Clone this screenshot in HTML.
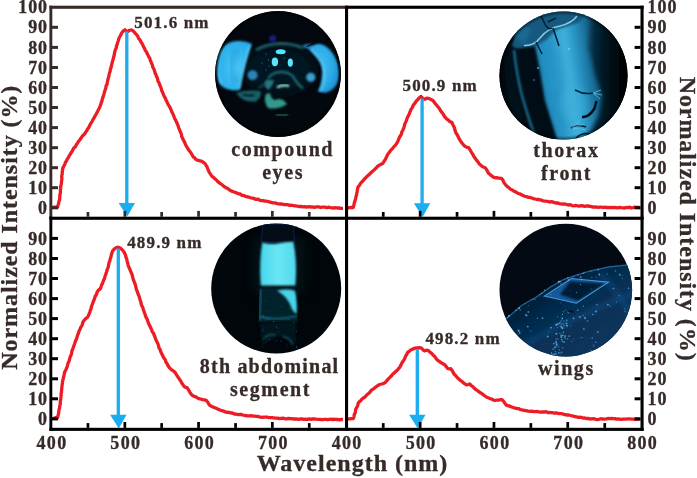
<!DOCTYPE html>
<html lang="en">
<head>
<meta charset="utf-8">
<title>Normalized Intensity vs Wavelength</title>
<style>
html,body{margin:0;padding:0;background:#fff;}
body{width:697px;height:478px;overflow:hidden;}
svg{display:block;}
svg text{font-family:"Liberation Serif","DejaVu Serif",serif;font-weight:bold;fill:#362b28;stroke:#362b28;stroke-width:0.3px;}
</style>
</head>
<body>
<svg width="697" height="478" viewBox="0 0 697 478">
<rect width="697" height="478" fill="#fff"/>
<defs>
<clipPath id="k1"><circle cx="278" cy="74" r="63"/></clipPath>
<clipPath id="k2"><circle cx="563.5" cy="75.6" r="64"/></clipPath>
<clipPath id="k3"><circle cx="276.2" cy="288.5" r="65"/></clipPath>
<clipPath id="k4"><circle cx="565.8" cy="290.1" r="66.3"/></clipPath>
<filter id="b05" x="-30%" y="-30%" width="160%" height="160%"><feGaussianBlur stdDeviation="0.6"/></filter>
<filter id="b08" x="-30%" y="-30%" width="160%" height="160%"><feGaussianBlur stdDeviation="0.8"/></filter>
<filter id="b1" x="-30%" y="-30%" width="160%" height="160%"><feGaussianBlur stdDeviation="1.1"/></filter>
<filter id="b2" x="-30%" y="-30%" width="160%" height="160%"><feGaussianBlur stdDeviation="2"/></filter>
<filter id="b3" x="-40%" y="-40%" width="180%" height="180%"><feGaussianBlur stdDeviation="3.5"/></filter>
<filter id="b6" x="-50%" y="-50%" width="200%" height="200%"><feGaussianBlur stdDeviation="6"/></filter>
<radialGradient id="eyeL" cx="0.55" cy="0.55" r="0.65"><stop offset="0" stop-color="#4cc8f6"/><stop offset="0.6" stop-color="#30b4ee"/><stop offset="1" stop-color="#2aa8e6"/></radialGradient>
<radialGradient id="eyeR" cx="0.35" cy="0.45" r="0.75"><stop offset="0" stop-color="#46c2f4"/><stop offset="0.6" stop-color="#2aa8e6"/><stop offset="1" stop-color="#1884c6"/></radialGradient>
<radialGradient id="vig1" cx="0.5" cy="0.5" r="0.5"><stop offset="0.94" stop-color="#000" stop-opacity="0"/><stop offset="1" stop-color="#000" stop-opacity="0.85"/></radialGradient>
<linearGradient id="band2" gradientUnits="userSpaceOnUse" x1="536" y1="0" x2="602" y2="0" gradientTransform="rotate(-8 563 76)">
 <stop offset="0" stop-color="#1f87ba"/><stop offset="0.3" stop-color="#2794c7"/><stop offset="0.5" stop-color="#42b2dc"/><stop offset="0.62" stop-color="#2e9dcd"/><stop offset="0.85" stop-color="#186d98"/><stop offset="1" stop-color="#0b4463"/></linearGradient>
<linearGradient id="left2" gradientUnits="userSpaceOnUse" x1="499" y1="0" x2="520" y2="0"><stop offset="0" stop-color="#010508"/><stop offset="0.5" stop-color="#010e17"/><stop offset="1" stop-color="#02111b"/></linearGradient>
<linearGradient id="right2" gradientUnits="userSpaceOnUse" x1="588" y1="0" x2="622" y2="0"><stop offset="0" stop-color="#093a56"/><stop offset="0.45" stop-color="#031824"/><stop offset="1" stop-color="#010406"/></linearGradient>
<linearGradient id="g3" x1="0" y1="0" x2="1" y2="0"><stop offset="0" stop-color="#48d6ec"/><stop offset="0.5" stop-color="#6ae6f3"/><stop offset="1" stop-color="#50daee"/></linearGradient>
<linearGradient id="g4" gradientUnits="userSpaceOnUse" x1="540" y1="290" x2="580" y2="350"><stop offset="0" stop-color="#041d36"/><stop offset="0.35" stop-color="#062c4e"/><stop offset="1" stop-color="#08355c"/></linearGradient>
</defs>
<g clip-path="url(#k1)">
<rect x="214" y="10" width="130" height="130" fill="#02080d"/>
<ellipse cx="279" cy="70" rx="36" ry="24" fill="#041720" filter="url(#b6)"/>
<path d="M256,50 Q267,44 280,43.5 Q293,43.5 303,48" fill="none" stroke="#1b5d66" stroke-width="3" filter="url(#b1)"/>
<path d="M235,41.2 C241,40.5 247,41.5 252,44 C248,54 244.5,66 241.5,80 L240,89.8 C232,91.5 223,89 219,83 C215,76 215,62 218.5,54 C222,46 228,42 235,41.2Z" fill="url(#eyeL)" filter="url(#b08)"/>
<path d="M238,49 C231,57 230,72 236,83" fill="none" stroke="#1f93d6" stroke-width="7" opacity="0.35" filter="url(#b2)"/>
<path d="M249.5,46 C245,60 242,75 239.5,88" fill="none" stroke="#7adcfa" stroke-width="2.2" opacity="0.55" filter="url(#b1)"/>
<path d="M222,50 C217.5,60 217,76 222,84" fill="none" stroke="#6ad4f8" stroke-width="2" opacity="0.45" filter="url(#b1)"/>
<path d="M301.5,46 Q306,43 311.5,44.5 L309.5,49.5 Q305,48.5 301.5,46Z" fill="#1a78b4" filter="url(#b08)"/>
<path d="M308.5,48.5 C311,45 316,43.5 320,44 C326,45 331,50 334.5,56 C338.5,63 340.5,72 338.5,80 C336.5,87 331,92 324.5,92.8 L317.7,91.4 C320.5,87 322,80 322.3,71.6 C322.3,64 319,59 315,55.5 C313,53 310.5,50.5 308.5,48.5Z" fill="url(#eyeR)" filter="url(#b08)"/>
<path d="M310.5,49 C317,55 323,62 324.5,72 C325,80 323,87 320.5,91" fill="none" stroke="#5fd0f8" stroke-width="2.4" opacity="0.6" filter="url(#b1)"/>
<path d="M306.5,46.5 L318,42.2" fill="none" stroke="#03121a" stroke-width="1.1" filter="url(#b05)"/>
<ellipse cx="280.7" cy="51.8" rx="5" ry="2.5" fill="#55e6ff" filter="url(#b05)"/>
<ellipse cx="274.9" cy="61.8" rx="3.2" ry="4.4" fill="#5ce4ff" filter="url(#b05)"/>
<ellipse cx="290.3" cy="62.6" rx="2.6" ry="4.2" fill="#5ce4ff" filter="url(#b05)"/>
<circle cx="252.6" cy="75.3" r="5" fill="#2c86b8" filter="url(#b1)"/>
<circle cx="310.8" cy="77.3" r="4.6" fill="#3a9fd0" filter="url(#b1)"/>
<circle cx="272.7" cy="38.5" r="3.6" fill="#1c2390" opacity="0.85" filter="url(#b1)"/>
<circle cx="266" cy="54" r="0.6" fill="#4fa7a8" opacity="0.8"/>
<circle cx="268.5" cy="60" r="0.6" fill="#4fa7a8" opacity="0.8"/>
<circle cx="262" cy="63" r="0.6" fill="#4fa7a8" opacity="0.8"/>
<circle cx="269" cy="66" r="0.6" fill="#4fa7a8" opacity="0.8"/>
<circle cx="266" cy="70" r="0.6" fill="#4fa7a8" opacity="0.8"/>
<circle cx="284" cy="58" r="0.6" fill="#4fa7a8" opacity="0.8"/>
<path d="M268,79 Q272,71.5 282,72 Q291,72.5 294,78 Q297,84 303,88.5" fill="none" stroke="#216770" stroke-width="2.4" filter="url(#b1)"/>
<path d="M258,88 Q264,86 268,80" fill="none" stroke="#184f58" stroke-width="1.8" filter="url(#b1)"/>
<path d="M236,93 Q246,89.5 260,91 Q263,96 256,101.5 Q243,103 236,93Z" fill="#176069" filter="url(#b1)"/>
<path d="M243,94 Q248,97 254,95" fill="none" stroke="#04161c" stroke-width="2" filter="url(#b1)"/>
<path d="M266,80 Q263,86 268,90 Q273,86 274,80Z" fill="#25747c" filter="url(#b1)"/>
<path d="M266,94 Q263,101 268,108 Q278,110 287,104 Q282,97 275,100 Q271,99 270,93Z" fill="#329a8c" filter="url(#b1)"/>
<path d="M277,87.5 Q283,84 289,86" fill="none" stroke="#98d8c8" stroke-width="2.6" filter="url(#b1)"/>
<path d="M276,114.5 Q282,116 288,114.5" fill="none" stroke="#1b6f70" stroke-width="2" filter="url(#b1)"/>
<circle cx="278" cy="74" r="63" fill="url(#vig1)"/>
</g>
<g clip-path="url(#k2)">
<rect x="498" y="10" width="132" height="132" fill="#020c14"/>
<rect x="498" y="10" width="24" height="132" fill="url(#left2)"/>
<rect x="586" y="0" width="50" height="150" fill="url(#right2)" filter="url(#b2)"/>
<path d="M534,46 L528,8 L591,8 L588.4,48 L594.4,74 L602.5,96 L598.4,116 L584,142 L557,142 L544,100 L539,70Z" fill="url(#band2)" filter="url(#b2)"/>
<path d="M512,46 L516,30 L535,12 L590,8 L580,22 L556,30 L546,40 L534,47 L518,50Z" fill="#14587e" filter="url(#b1)"/>
<path d="M514,36 L522,24 L532,30 L524,44Z" fill="#2279a6" opacity="0.5" filter="url(#b2)"/>
<path d="M515,49 L534.5,47 L539,70 L544,100 L557,142 L538,142 L528,110 L521,80Z" fill="#021019" filter="url(#b1)"/>
<path d="M514,50 Q517,80 525,106 Q531,126 537,142" fill="none" stroke="#1a749e" stroke-width="2.3" filter="url(#b1)"/>
<path d="M507,56 Q510,95 522,130" fill="none" stroke="#02131e" stroke-width="5" filter="url(#b2)"/>
<path d="M524,45.5 Q534,46 540,38 Q548,28 560,26 Q572,23 577,16" fill="none" stroke="#86cbe8" stroke-width="1.5" filter="url(#b05)"/>
<path d="M541,16 L546,26 Q549,30 552,28 M553,28 L559,46 M536,42 L542,54 M548,22 L556,18" fill="none" stroke="#03202e" stroke-width="1.5" filter="url(#b05)"/>
<ellipse cx="574" cy="104" rx="14" ry="18" fill="#3fb0dc" opacity="0.45" filter="url(#b3)"/>
<ellipse cx="556" cy="72" rx="8" ry="22" fill="#2a98cc" opacity="0.35" filter="url(#b3)"/>
<path d="M575,90 Q584,95 593,93" fill="none" stroke="#052636" stroke-width="1.5" filter="url(#b05)"/>
<path d="M582,117 Q589,117.5 594.5,108.5 L596.5,101" fill="none" stroke="#021018" stroke-width="2.4" filter="url(#b05)"/>
<path d="M571,128 Q578,124 586,127 M576,138 Q582,132 590,134" fill="none" stroke="#052636" stroke-width="1.5" filter="url(#b05)"/>
<path d="M593,93 L601,90 M593,93 L602,95 M593,93 L600,99" fill="none" stroke="#6cc6e6" stroke-width="1" opacity="0.7" filter="url(#b05)"/>
<path d="M572,128 L580,121 M572,128 L584,124 M572,128 L586,130" fill="none" stroke="#6cc6e6" stroke-width="1" opacity="0.6" filter="url(#b05)"/>
<circle cx="538" cy="68" r="0.9" fill="#4ab0e8"/><circle cx="534" cy="80" r="0.8" fill="#3a9ad8"/><circle cx="569" cy="49" r="0.9" fill="#7fd0f0"/>
<circle cx="563.5" cy="75.6" r="64" fill="url(#vig1)" opacity="0.6"/>
</g>
<g clip-path="url(#k3)">
<rect x="210" y="222" width="134" height="134" fill="#01060a"/>
<rect x="254" y="238" width="50" height="56" fill="#0a3a46" opacity="0.25" filter="url(#b6)"/>
<path d="M262.5,224 L293.5,224 L294.5,242 L261.5,242Z" fill="#030c16" stroke="#0b2458" stroke-width="0.9"/>
<path d="M262.3,242.5 Q270,245 278,243.5 Q286,242 293.3,241.8 Q297.5,262 295.3,285.5 L260.8,285.5 Q259,262 262.3,242.5Z" fill="url(#g3)" filter="url(#b1)"/>
<path d="M260.5,288.5 L295.5,288.5 L297.5,322 L258.5,322Z" fill="#05202b" filter="url(#b05)"/>
<path d="M261,289 Q259.5,305 259.5,320" fill="none" stroke="#14607c" stroke-width="2" filter="url(#b1)"/>
<path d="M277,290.5 Q288,288.5 295,291 Q297.5,303 296.5,314 Q292,311 290,304 Q286.5,296.5 277,290.5Z" fill="#4ad4ea" filter="url(#b1)"/>
<path d="M260,317 Q278,321 297,316" fill="none" stroke="#156a84" stroke-width="1.8" filter="url(#b1)"/>
<path d="M259.5,323 L296.5,322 L295,345 L287,340 L278,336 L268,342 L262,346Z" fill="#04131c" filter="url(#b1)"/>
<circle cx="276.7" cy="326.9" r="0.67" fill="#2a6fd0" opacity="0.63"/>
<circle cx="278.8" cy="328.2" r="0.37" fill="#2a6fd0" opacity="0.66"/>
<circle cx="283.3" cy="338.1" r="0.34" fill="#2a6fd0" opacity="0.55"/>
<circle cx="263.4" cy="338.9" r="0.58" fill="#2a6fd0" opacity="0.42"/>
<circle cx="296.3" cy="346.3" r="0.56" fill="#2a6fd0" opacity="0.71"/>
<circle cx="265.8" cy="300.7" r="0.51" fill="#2a6fd0" opacity="0.43"/>
<circle cx="267.0" cy="311.6" r="0.31" fill="#2a6fd0" opacity="0.63"/>
<circle cx="276.3" cy="340.4" r="0.51" fill="#2a6fd0" opacity="0.72"/>
<circle cx="278.5" cy="331.8" r="0.48" fill="#2a6fd0" opacity="0.54"/>
<circle cx="296.9" cy="347.8" r="0.64" fill="#2a6fd0" opacity="0.75"/>
<circle cx="271.7" cy="311.0" r="0.42" fill="#2a6fd0" opacity="0.44"/>
<circle cx="288.4" cy="319.2" r="0.64" fill="#2a6fd0" opacity="0.59"/>
<circle cx="295.4" cy="340.7" r="0.30" fill="#2a6fd0" opacity="0.50"/>
<circle cx="293.7" cy="322.6" r="0.69" fill="#2a6fd0" opacity="0.60"/>
<circle cx="262.7" cy="330.2" r="0.61" fill="#2a6fd0" opacity="0.53"/>
<circle cx="263.2" cy="316.0" r="0.69" fill="#2a6fd0" opacity="0.78"/>
<circle cx="264.4" cy="311.8" r="0.34" fill="#2a6fd0" opacity="0.43"/>
<circle cx="289.5" cy="308.5" r="0.52" fill="#2a6fd0" opacity="0.62"/>
<circle cx="267.1" cy="335.1" r="0.35" fill="#2a6fd0" opacity="0.72"/>
<circle cx="264.3" cy="320.2" r="0.39" fill="#2a6fd0" opacity="0.53"/>
<circle cx="295.9" cy="338.6" r="0.42" fill="#2a6fd0" opacity="0.84"/>
<circle cx="267.8" cy="318.9" r="0.64" fill="#2a6fd0" opacity="0.72"/>
<circle cx="263.7" cy="347.5" r="0.39" fill="#2a6fd0" opacity="0.53"/>
<circle cx="288.6" cy="315.8" r="0.42" fill="#2a6fd0" opacity="0.44"/>
<circle cx="263.3" cy="328.0" r="0.40" fill="#2a6fd0" opacity="0.70"/>
<circle cx="273.8" cy="321.8" r="0.68" fill="#2a6fd0" opacity="0.64"/>
<circle cx="281.3" cy="341.6" r="0.37" fill="#2a6fd0" opacity="0.48"/>
<circle cx="293.6" cy="339.3" r="0.40" fill="#2a6fd0" opacity="0.49"/>
<circle cx="287.4" cy="345.1" r="0.38" fill="#2a6fd0" opacity="0.88"/>
<circle cx="292.6" cy="329.0" r="0.47" fill="#2a6fd0" opacity="0.45"/>
<circle cx="261.4" cy="346.2" r="0.40" fill="#2a6fd0" opacity="0.75"/>
<circle cx="269.5" cy="339.5" r="0.54" fill="#2a6fd0" opacity="0.55"/>
<circle cx="266.5" cy="334.6" r="0.33" fill="#2a6fd0" opacity="0.51"/>
<circle cx="280.7" cy="340.9" r="0.55" fill="#2a6fd0" opacity="0.54"/>
<circle cx="293.9" cy="309.8" r="0.31" fill="#2a6fd0" opacity="0.53"/>
<circle cx="276.5" cy="302.9" r="0.37" fill="#2a6fd0" opacity="0.58"/>
<circle cx="281.2" cy="306.3" r="0.44" fill="#2a6fd0" opacity="0.85"/>
<circle cx="296.3" cy="331.5" r="0.58" fill="#2a6fd0" opacity="0.69"/>
<circle cx="265.2" cy="301.7" r="0.31" fill="#2a6fd0" opacity="0.86"/>
<circle cx="285.9" cy="346.2" r="0.31" fill="#2a6fd0" opacity="0.72"/>
<path d="M264,338 Q270,333 276,335 M283,336 Q290,338 293,345" fill="none" stroke="#13566c" stroke-width="1.5" filter="url(#b1)"/>
</g>
<g clip-path="url(#k4)">
<rect x="498" y="222" width="136" height="136" fill="#030a14"/>
<path d="M498,326 L508,317.2 L522,305.2 L536.2,297.1 L550.2,287.1 L562.3,280.1 L576.3,275.1 L590.4,271 L608.5,267 L636,264 L636,360 L498,360Z" fill="url(#g4)" filter="url(#b05)"/>
<path d="M498,326 L508,317.2 L522,305.2 L536.2,297.1 L550.2,287.1 L562.3,280.1 L576.3,275.1 L590.4,271 L608.5,267 L636,264" fill="none" stroke="#2a78b8" stroke-width="1.3" opacity="0.75" filter="url(#b05)"/>
<path d="M512,352 Q570,318 636,292" fill="none" stroke="#0e4a80" stroke-width="7" opacity="0.5" filter="url(#b2)"/>
<path d="M600,275 Q618,290 634,320" fill="none" stroke="#0f4e86" stroke-width="7" opacity="0.45" filter="url(#b2)"/>
<path d="M544.2,296.1 L571.3,278.5 L608.5,282.1 L576.3,303.2Z" fill="#14589a" filter="url(#b05)"/>
<path d="M570,281.5 L605,283.5 L578,300.8 L560,294.5Z" fill="#051a34" filter="url(#b1)"/>
<path d="M544.2,296.1 L571.3,278.5 L608.5,282.1 L576.3,303.2Z" fill="none" stroke="#4597d8" stroke-width="1.1" filter="url(#b05)"/>
<ellipse cx="570.5" cy="311.8" rx="2.8" ry="1.6" fill="#04101c"/>
<circle cx="564.7" cy="337.0" r="0.56" fill="#58b4e8" opacity="0.90"/>
<circle cx="511.8" cy="338.5" r="0.83" fill="#58b4e8" opacity="0.84"/>
<circle cx="597.8" cy="332.0" r="0.87" fill="#58b4e8" opacity="0.85"/>
<circle cx="547.7" cy="336.5" r="0.94" fill="#58b4e8" opacity="0.82"/>
<circle cx="556.2" cy="342.6" r="0.91" fill="#58b4e8" opacity="0.64"/>
<circle cx="583.2" cy="306.2" r="0.73" fill="#58b4e8" opacity="0.67"/>
<circle cx="512.4" cy="342.3" r="1.00" fill="#58b4e8" opacity="0.83"/>
<circle cx="596.7" cy="304.6" r="0.83" fill="#58b4e8" opacity="0.65"/>
<circle cx="559.3" cy="345.9" r="0.40" fill="#58b4e8" opacity="0.75"/>
<circle cx="505.9" cy="342.9" r="0.66" fill="#58b4e8" opacity="0.44"/>
<circle cx="592.8" cy="314.5" r="0.75" fill="#58b4e8" opacity="0.85"/>
<circle cx="535.3" cy="299.3" r="0.55" fill="#58b4e8" opacity="0.71"/>
<circle cx="528.3" cy="312.0" r="0.94" fill="#58b4e8" opacity="0.70"/>
<circle cx="559.5" cy="349.9" r="0.56" fill="#58b4e8" opacity="0.70"/>
<circle cx="527.8" cy="326.6" r="0.87" fill="#58b4e8" opacity="0.85"/>
<circle cx="616.4" cy="302.1" r="0.73" fill="#58b4e8" opacity="0.49"/>
<circle cx="519.7" cy="332.9" r="0.89" fill="#58b4e8" opacity="0.81"/>
<circle cx="594.5" cy="353.7" r="0.53" fill="#58b4e8" opacity="0.40"/>
<circle cx="560.6" cy="303.0" r="0.49" fill="#58b4e8" opacity="0.55"/>
<circle cx="583.3" cy="315.5" r="0.55" fill="#58b4e8" opacity="0.80"/>
<circle cx="629.7" cy="307.5" r="0.40" fill="#58b4e8" opacity="0.32"/>
<circle cx="615.5" cy="271.0" r="0.81" fill="#58b4e8" opacity="0.64"/>
<circle cx="542.2" cy="344.6" r="0.36" fill="#58b4e8" opacity="0.38"/>
<circle cx="561.1" cy="283.7" r="0.89" fill="#58b4e8" opacity="0.44"/>
<circle cx="520.3" cy="310.0" r="0.76" fill="#58b4e8" opacity="0.57"/>
<circle cx="583.9" cy="329.0" r="0.87" fill="#58b4e8" opacity="0.88"/>
<circle cx="591.0" cy="289.0" r="0.66" fill="#58b4e8" opacity="0.41"/>
<circle cx="503.4" cy="339.1" r="0.81" fill="#58b4e8" opacity="0.41"/>
<circle cx="537.4" cy="318.2" r="0.80" fill="#58b4e8" opacity="0.61"/>
<circle cx="581.9" cy="337.6" r="0.61" fill="#58b4e8" opacity="0.78"/>
<circle cx="619.8" cy="274.7" r="0.96" fill="#58b4e8" opacity="0.73"/>
<circle cx="518.9" cy="331.2" r="0.76" fill="#58b4e8" opacity="0.85"/>
<circle cx="551.0" cy="327.7" r="0.92" fill="#58b4e8" opacity="0.78"/>
<circle cx="624.8" cy="308.8" r="0.77" fill="#58b4e8" opacity="0.42"/>
<circle cx="595.9" cy="342.2" r="0.77" fill="#58b4e8" opacity="0.73"/>
<circle cx="529.7" cy="352.4" r="0.99" fill="#58b4e8" opacity="0.89"/>
<circle cx="571.8" cy="341.2" r="0.56" fill="#58b4e8" opacity="0.85"/>
<circle cx="613.3" cy="299.0" r="0.40" fill="#58b4e8" opacity="0.56"/>
<circle cx="573.5" cy="339.2" r="0.67" fill="#58b4e8" opacity="0.32"/>
<circle cx="607.2" cy="274.0" r="0.87" fill="#58b4e8" opacity="0.40"/>
<circle cx="545.6" cy="343.9" r="0.44" fill="#58b4e8" opacity="0.39"/>
<circle cx="569.1" cy="336.1" r="0.90" fill="#58b4e8" opacity="0.71"/>
<circle cx="624.9" cy="311.4" r="0.97" fill="#58b4e8" opacity="0.35"/>
<circle cx="530.8" cy="331.1" r="0.54" fill="#58b4e8" opacity="0.74"/>
<circle cx="585.1" cy="317.7" r="0.90" fill="#58b4e8" opacity="0.64"/>
<circle cx="542.5" cy="318.1" r="0.90" fill="#58b4e8" opacity="0.84"/>
<circle cx="529.1" cy="349.7" r="0.98" fill="#58b4e8" opacity="0.61"/>
<circle cx="576.5" cy="292.5" r="0.70" fill="#58b4e8" opacity="0.60"/>
<circle cx="580.7" cy="277.1" r="0.98" fill="#58b4e8" opacity="0.61"/>
<circle cx="554.1" cy="343.6" r="0.72" fill="#58b4e8" opacity="0.59"/>
<circle cx="591.8" cy="277.4" r="0.70" fill="#58b4e8" opacity="0.55"/>
<circle cx="626.4" cy="351.0" r="0.52" fill="#58b4e8" opacity="0.58"/>
<circle cx="518.5" cy="330.4" r="0.88" fill="#58b4e8" opacity="0.84"/>
<circle cx="563.9" cy="305.1" r="0.47" fill="#58b4e8" opacity="0.67"/>
<circle cx="622.3" cy="278.3" r="0.86" fill="#58b4e8" opacity="0.31"/>
<circle cx="527.2" cy="315.7" r="0.80" fill="#58b4e8" opacity="0.49"/>
<circle cx="548.2" cy="332.0" r="0.42" fill="#58b4e8" opacity="0.74"/>
<circle cx="518.0" cy="334.3" r="0.51" fill="#58b4e8" opacity="0.42"/>
<circle cx="570.9" cy="312.9" r="0.59" fill="#58b4e8" opacity="0.55"/>
<circle cx="570.8" cy="290.8" r="0.48" fill="#58b4e8" opacity="0.68"/>
<circle cx="585.0" cy="318.3" r="0.90" fill="#58b4e8" opacity="0.67"/>
<circle cx="613.4" cy="288.5" r="0.83" fill="#58b4e8" opacity="0.79"/>
<circle cx="619.3" cy="295.6" r="0.55" fill="#58b4e8" opacity="0.85"/>
<circle cx="530.4" cy="357.9" r="0.93" fill="#58b4e8" opacity="0.38"/>
<circle cx="533.1" cy="342.1" r="0.52" fill="#58b4e8" opacity="0.36"/>
<circle cx="610.2" cy="305.8" r="0.86" fill="#58b4e8" opacity="0.38"/>
<circle cx="554.4" cy="335.2" r="0.36" fill="#58b4e8" opacity="0.42"/>
<circle cx="590.7" cy="350.4" r="0.98" fill="#58b4e8" opacity="0.37"/>
<circle cx="567.7" cy="338.9" r="0.68" fill="#58b4e8" opacity="0.71"/>
<circle cx="526.6" cy="307.4" r="0.42" fill="#58b4e8" opacity="0.32"/>
<circle cx="573.7" cy="318.7" r="0.72" fill="#58b4e8" opacity="0.39"/>
<circle cx="526.0" cy="315.0" r="0.90" fill="#58b4e8" opacity="0.89"/>
<circle cx="622.5" cy="275.2" r="0.39" fill="#58b4e8" opacity="0.87"/>
<circle cx="562.1" cy="339.9" r="0.56" fill="#58b4e8" opacity="0.58"/>
<circle cx="569.0" cy="312.8" r="0.74" fill="#58b4e8" opacity="0.31"/>
<circle cx="593.1" cy="344.5" r="0.47" fill="#58b4e8" opacity="0.57"/>
<circle cx="598.1" cy="305.8" r="0.48" fill="#58b4e8" opacity="0.40"/>
<circle cx="568.6" cy="280.1" r="0.93" fill="#58b4e8" opacity="0.78"/>
<circle cx="593.6" cy="345.9" r="0.76" fill="#58b4e8" opacity="0.54"/>
<circle cx="579.9" cy="316.9" r="0.99" fill="#58b4e8" opacity="0.78"/>
<circle cx="535.6" cy="352.7" r="0.83" fill="#58b4e8" opacity="0.77"/>
<circle cx="607.9" cy="304.6" r="0.93" fill="#58b4e8" opacity="0.83"/>
<circle cx="592.3" cy="337.9" r="0.85" fill="#58b4e8" opacity="0.54"/>
<circle cx="595.9" cy="276.9" r="0.57" fill="#58b4e8" opacity="0.58"/>
<circle cx="503.4" cy="335.0" r="0.77" fill="#58b4e8" opacity="0.67"/>
<circle cx="532.2" cy="354.8" r="0.78" fill="#58b4e8" opacity="0.50"/>
<circle cx="587.8" cy="321.3" r="0.70" fill="#58b4e8" opacity="0.53"/>
<circle cx="632.0" cy="324.9" r="0.81" fill="#58b4e8" opacity="0.76"/>
<circle cx="629.4" cy="267.8" r="0.75" fill="#58b4e8" opacity="0.74"/>
<circle cx="535.4" cy="322.4" r="0.38" fill="#58b4e8" opacity="0.42"/>
<circle cx="550.8" cy="294.6" r="0.51" fill="#58b4e8" opacity="0.84"/>
<circle cx="573.5" cy="318.2" r="0.98" fill="#58b4e8" opacity="0.64"/>
<circle cx="631.4" cy="324.5" r="0.88" fill="#58b4e8" opacity="0.35"/>
<circle cx="579.7" cy="338.0" r="0.38" fill="#58b4e8" opacity="0.86"/>
<circle cx="522.8" cy="330.4" r="0.46" fill="#58b4e8" opacity="0.60"/>
<circle cx="581.5" cy="279.5" r="0.96" fill="#58b4e8" opacity="0.55"/>
<circle cx="570.5" cy="325.9" r="0.59" fill="#58b4e8" opacity="0.47"/>
<circle cx="587.2" cy="320.6" r="0.53" fill="#58b4e8" opacity="0.73"/>
<circle cx="540.5" cy="295.9" r="0.51" fill="#58b4e8" opacity="0.33"/>
<circle cx="522.4" cy="345.2" r="0.60" fill="#58b4e8" opacity="0.84"/>
<circle cx="599.3" cy="274.4" r="0.99" fill="#58b4e8" opacity="0.87"/>
<circle cx="511.6" cy="354.0" r="0.63" fill="#58b4e8" opacity="0.59"/>
<circle cx="628.5" cy="288.3" r="0.69" fill="#58b4e8" opacity="0.86"/>
<circle cx="596.0" cy="311.6" r="0.99" fill="#58b4e8" opacity="0.79"/>
<circle cx="580.5" cy="284.5" r="0.76" fill="#58b4e8" opacity="0.57"/>
<circle cx="528.5" cy="305.4" r="0.69" fill="#58b4e8" opacity="0.37"/>
<circle cx="559.6" cy="333.0" r="0.65" fill="#58b4e8" opacity="0.46"/>
<circle cx="577.7" cy="310.2" r="0.86" fill="#58b4e8" opacity="0.62"/>
<circle cx="631.7" cy="353.6" r="0.83" fill="#58b4e8" opacity="0.44"/>
<circle cx="516.8" cy="352.9" r="0.86" fill="#58b4e8" opacity="0.67"/>
<circle cx="556.1" cy="341.7" r="0.84" fill="#4fb0e6" opacity="0.80"/>
<circle cx="564.1" cy="325.7" r="0.65" fill="#4fb0e6" opacity="0.99"/>
<circle cx="567.9" cy="312.0" r="0.54" fill="#4fb0e6" opacity="0.64"/>
<circle cx="560.9" cy="334.1" r="0.82" fill="#4fb0e6" opacity="0.54"/>
<circle cx="558.8" cy="352.6" r="0.88" fill="#4fb0e6" opacity="0.69"/>
<circle cx="556.4" cy="333.7" r="0.95" fill="#4fb0e6" opacity="0.92"/>
<circle cx="552.0" cy="355.2" r="0.87" fill="#4fb0e6" opacity="0.88"/>
<circle cx="556.8" cy="344.7" r="0.99" fill="#4fb0e6" opacity="0.68"/>
<circle cx="567.1" cy="325.8" r="0.83" fill="#4fb0e6" opacity="0.87"/>
<circle cx="562.5" cy="314.4" r="0.56" fill="#4fb0e6" opacity="0.94"/>
<circle cx="551.6" cy="353.1" r="0.79" fill="#4fb0e6" opacity="0.84"/>
<circle cx="561.7" cy="339.5" r="0.63" fill="#4fb0e6" opacity="0.83"/>
<circle cx="554.3" cy="354.2" r="0.92" fill="#4fb0e6" opacity="0.64"/>
<circle cx="555.4" cy="351.5" r="0.72" fill="#4fb0e6" opacity="0.56"/>
<circle cx="562.5" cy="328.1" r="1.06" fill="#4fb0e6" opacity="0.96"/>
<circle cx="563.1" cy="335.2" r="0.69" fill="#4fb0e6" opacity="0.70"/>
<circle cx="568.2" cy="312.9" r="0.72" fill="#4fb0e6" opacity="0.68"/>
<circle cx="557.7" cy="339.1" r="0.62" fill="#4fb0e6" opacity="0.78"/>
<circle cx="562.9" cy="323.6" r="0.84" fill="#4fb0e6" opacity="0.59"/>
<circle cx="566.6" cy="320.9" r="0.51" fill="#4fb0e6" opacity="0.76"/>
<circle cx="561.2" cy="335.8" r="0.89" fill="#4fb0e6" opacity="0.90"/>
<circle cx="557.1" cy="355.5" r="0.55" fill="#4fb0e6" opacity="0.54"/>
<circle cx="566.7" cy="320.2" r="0.88" fill="#4fb0e6" opacity="0.57"/>
<circle cx="563.8" cy="321.1" r="0.63" fill="#4fb0e6" opacity="0.88"/>
<circle cx="563.3" cy="332.2" r="0.70" fill="#4fb0e6" opacity="0.98"/>
<circle cx="561.3" cy="326.7" r="0.93" fill="#4fb0e6" opacity="0.85"/>
<circle cx="562.2" cy="318.4" r="0.90" fill="#4fb0e6" opacity="0.93"/>
<circle cx="566.5" cy="323.6" r="1.07" fill="#4fb0e6" opacity="0.82"/>
<circle cx="562.7" cy="335.4" r="0.75" fill="#4fb0e6" opacity="0.71"/>
<circle cx="560.1" cy="353.5" r="0.73" fill="#4fb0e6" opacity="0.58"/>
<circle cx="556.7" cy="345.3" r="1.08" fill="#4fb0e6" opacity="0.53"/>
<circle cx="553.8" cy="343.6" r="0.97" fill="#4fb0e6" opacity="0.59"/>
<circle cx="556.0" cy="353.9" r="1.05" fill="#4fb0e6" opacity="0.52"/>
<circle cx="553.1" cy="349.0" r="0.64" fill="#4fb0e6" opacity="0.86"/>
<circle cx="557.4" cy="327.3" r="0.67" fill="#4fb0e6" opacity="0.59"/>
<circle cx="559.8" cy="323.1" r="0.99" fill="#4fb0e6" opacity="0.74"/>
<circle cx="562.7" cy="347.9" r="0.71" fill="#4fb0e6" opacity="0.77"/>
<circle cx="563.4" cy="311.7" r="0.53" fill="#4fb0e6" opacity="0.97"/>
<circle cx="561.0" cy="321.0" r="0.81" fill="#4fb0e6" opacity="0.64"/>
<circle cx="565.8" cy="310.3" r="0.51" fill="#4fb0e6" opacity="0.74"/>
<circle cx="562.5" cy="341.4" r="0.86" fill="#4fb0e6" opacity="0.58"/>
<circle cx="555.1" cy="347.2" r="1.02" fill="#4fb0e6" opacity="0.76"/>
<circle cx="567.0" cy="326.1" r="0.82" fill="#4fb0e6" opacity="0.58"/>
<circle cx="556.2" cy="324.7" r="1.01" fill="#4fb0e6" opacity="0.91"/>
<circle cx="553.9" cy="354.1" r="0.56" fill="#4fb0e6" opacity="0.74"/>
<circle cx="565.2" cy="336.1" r="1.01" fill="#4fb0e6" opacity="0.65"/>
<circle cx="561.3" cy="324.6" r="0.55" fill="#4fb0e6" opacity="0.91"/>
<circle cx="558.2" cy="347.0" r="0.59" fill="#4fb0e6" opacity="0.92"/>
<circle cx="556.2" cy="338.9" r="0.68" fill="#4fb0e6" opacity="0.73"/>
<circle cx="560.0" cy="326.0" r="0.56" fill="#4fb0e6" opacity="0.70"/>
<circle cx="565.3" cy="338.3" r="0.89" fill="#4fb0e6" opacity="0.51"/>
<circle cx="561.5" cy="337.3" r="0.84" fill="#4fb0e6" opacity="0.73"/>
<circle cx="562.0" cy="357.9" r="0.62" fill="#4fb0e6" opacity="0.81"/>
<circle cx="556.8" cy="343.5" r="0.68" fill="#4fb0e6" opacity="0.67"/>
<circle cx="561.1" cy="336.8" r="0.62" fill="#4fb0e6" opacity="0.87"/>
<circle cx="564.0" cy="342.0" r="0.93" fill="#4fb0e6" opacity="0.67"/>
<circle cx="557.7" cy="316.7" r="0.56" fill="#4fb0e6" opacity="0.84"/>
<circle cx="557.8" cy="324.1" r="1.00" fill="#4fb0e6" opacity="0.80"/>
<circle cx="553.4" cy="349.3" r="0.57" fill="#4fb0e6" opacity="0.70"/>
<circle cx="561.6" cy="352.2" r="0.81" fill="#4fb0e6" opacity="0.82"/>
<circle cx="578.1" cy="275.1" r="0.59" fill="#7cc4f0" opacity="0.67"/>
<circle cx="544.7" cy="290.2" r="0.60" fill="#7cc4f0" opacity="0.85"/>
<circle cx="598.3" cy="269.7" r="0.73" fill="#7cc4f0" opacity="0.80"/>
<circle cx="507.7" cy="317.2" r="0.57" fill="#7cc4f0" opacity="0.83"/>
<circle cx="516.0" cy="310.2" r="0.65" fill="#7cc4f0" opacity="0.89"/>
<circle cx="583.6" cy="273.2" r="0.48" fill="#7cc4f0" opacity="0.88"/>
<circle cx="590.9" cy="271.0" r="0.58" fill="#7cc4f0" opacity="0.75"/>
<circle cx="519.3" cy="307.8" r="0.89" fill="#7cc4f0" opacity="0.76"/>
<circle cx="573.2" cy="276.7" r="0.50" fill="#7cc4f0" opacity="0.97"/>
<circle cx="564.9" cy="278.7" r="0.44" fill="#7cc4f0" opacity="0.62"/>
<circle cx="560.2" cy="281.6" r="0.56" fill="#7cc4f0" opacity="0.96"/>
<circle cx="540.0" cy="294.4" r="0.46" fill="#7cc4f0" opacity="0.99"/>
<circle cx="518.7" cy="308.6" r="0.67" fill="#7cc4f0" opacity="0.78"/>
<circle cx="558.7" cy="281.8" r="0.85" fill="#7cc4f0" opacity="1.00"/>
<circle cx="582.8" cy="273.4" r="0.46" fill="#7cc4f0" opacity="0.91"/>
<circle cx="533.1" cy="299.5" r="0.52" fill="#7cc4f0" opacity="0.79"/>
<circle cx="584.1" cy="272.3" r="0.67" fill="#7cc4f0" opacity="0.54"/>
<circle cx="509.0" cy="315.8" r="0.89" fill="#7cc4f0" opacity="0.97"/>
<circle cx="567.9" cy="277.8" r="0.74" fill="#7cc4f0" opacity="0.87"/>
<circle cx="541.9" cy="293.2" r="0.80" fill="#7cc4f0" opacity="0.51"/>
<circle cx="524.8" cy="303.6" r="0.47" fill="#7cc4f0" opacity="0.69"/>
<circle cx="559.5" cy="281.2" r="0.66" fill="#7cc4f0" opacity="0.63"/>
</g>
<path d="M52.0,207.6 L53.9,207.2 L55.8,207.2 L57.6,207.2 L57.9,205.5 L58.7,203.2 L58.9,201.6 L59.5,200.0 L59.7,198.8 L59.8,197.0 L59.8,195.2 L60.3,193.5 L60.5,191.8 L60.3,190.2 L60.7,188.7 L60.6,186.6 L61.0,185.5 L61.4,183.7 L61.5,182.0 L61.7,180.1 L61.9,178.5 L61.7,177.2 L61.9,174.9 L62.2,174.0 L62.3,172.0 L62.5,170.3 L62.7,168.6 L63.4,166.8 L64.3,165.4 L65.0,163.8 L65.5,162.0 L66.6,160.8 L67.1,159.2 L68.3,157.8 L69.0,156.0 L70.0,154.7 L70.9,152.9 L72.0,151.4 L73.0,149.5 L73.9,147.8 L75.4,146.8 L76.4,144.6 L77.3,143.5 L78.2,141.9 L79.5,140.3 L80.2,139.3 L81.5,137.5 L82.3,136.2 L83.5,134.9 L84.9,133.7 L85.7,132.0 L86.9,130.7 L87.4,129.2 L88.5,128.0 L89.2,126.5 L90.2,124.5 L91.0,123.2 L92.0,121.5 L93.2,119.3 L94.2,117.7 L95.0,116.0 L95.8,114.9 L96.7,113.0 L97.5,111.6 L98.3,110.0 L99.0,108.5 L99.7,107.3 L100.4,105.3 L101.0,103.8 L101.4,101.9 L102.0,101.0 L102.3,98.9 L103.0,97.2 L103.6,95.2 L104.0,94.0 L104.3,92.5 L104.9,90.9 L105.3,89.4 L105.9,87.8 L106.1,85.6 L107.0,84.6 L107.2,82.8 L107.6,80.9 L108.0,79.5 L108.4,77.6 L108.9,76.0 L109.2,74.2 L109.5,73.0 L110.2,71.1 L110.4,69.2 L110.9,68.0 L111.4,66.0 L111.8,64.0 L112.1,62.8 L112.6,60.8 L113.1,59.6 L113.4,58.0 L114.0,55.8 L114.3,54.7 L114.6,52.4 L115.0,51.0 L115.6,49.3 L116.3,47.8 L116.6,45.4 L117.3,44.1 L117.8,42.0 L118.4,40.5 L119.0,38.2 L119.8,36.8 L120.5,35.5 L121.4,33.5 L122.3,32.0 L123.6,30.8 L125.0,29.8 L126.2,31.1 L127.8,31.6 L129.3,30.4 L131.3,30.0 L132.8,30.5 L134.0,31.8 L135.5,33.6 L136.6,34.7 L137.8,36.2 L138.5,38.3 L139.7,39.5 L140.6,41.1 L141.3,42.4 L142.0,43.5 L142.8,45.1 L143.5,46.6 L144.6,48.6 L145.4,50.6 L146.5,52.0 L147.3,53.9 L148.2,55.5 L148.8,57.0 L149.6,57.8 L150.2,59.8 L150.7,61.1 L151.5,63.2 L152.3,64.6 L152.6,66.5 L153.3,68.0 L154.1,69.5 L154.7,71.4 L155.1,73.0 L156.0,74.8 L156.5,76.5 L157.2,77.7 L157.8,79.9 L158.0,81.3 L159.0,82.6 L159.3,83.6 L160.0,85.5 L160.6,86.9 L161.3,88.7 L161.7,90.7 L162.4,91.7 L163.0,93.4 L163.8,95.4 L164.7,97.3 L165.3,98.1 L165.9,99.8 L166.8,101.3 L167.5,103.0 L168.3,104.8 L169.2,106.2 L170.2,107.9 L171.1,110.0 L171.8,111.8 L172.4,112.9 L173.3,114.8 L174.0,116.5 L174.6,118.3 L175.5,119.8 L176.0,121.0 L176.8,122.6 L177.5,124.3 L178.2,125.9 L178.6,127.6 L179.4,129.4 L180.0,131.0 L180.6,132.3 L181.4,134.3 L181.7,136.4 L182.5,138.0 L183.0,139.3 L183.7,140.6 L184.6,142.1 L185.4,144.1 L186.0,145.5 L187.2,147.5 L188.2,149.2 L189.3,150.8 L190.4,152.0 L191.3,153.5 L192.5,155.5 L193.3,157.0 L194.4,157.6 L195.6,159.2 L197.2,160.2 L199.0,160.5 L201.9,161.3 L204.0,162.8 L205.2,163.7 L206.1,165.5 L207.0,166.7 L207.7,168.7 L208.2,170.0 L209.3,172.4 L210.3,173.9 L211.7,175.9 L213.5,177.4 L215.1,179.0 L216.6,180.2 L217.8,181.6 L219.5,182.9 L220.7,183.9 L222.0,184.6 L223.6,186.1 L224.9,187.1 L226.1,187.7 L227.7,188.5 L229.0,189.6 L231.1,190.9 L233.3,191.7 L235.0,192.3 L236.7,193.0 L238.5,193.8 L240.3,194.0 L242.0,195.4 L243.8,195.5 L245.4,196.3 L247.4,196.8 L249.0,197.2 L250.8,197.8 L252.6,198.1 L254.3,198.6 L255.9,199.4 L257.9,199.1 L259.5,199.9 L261.2,200.7 L263.1,200.6 L264.7,201.1 L266.2,201.1 L267.9,201.5 L269.3,201.9 L271.0,202.4 L272.8,202.9 L274.2,202.8 L275.9,203.2 L277.3,203.6 L279.3,204.0 L281.2,203.9 L283.5,204.5 L285.0,204.7 L286.6,204.6 L288.4,204.9 L289.9,205.3 L291.9,205.2 L293.5,205.7 L295.4,205.9 L297.0,206.1 L298.9,206.5 L300.8,206.4 L302.6,206.9 L304.5,206.7 L306.4,207.0 L307.8,206.8 L309.7,206.6 L311.5,207.1 L313.0,207.0 L314.7,207.4 L316.5,206.8 L318.5,206.8 L320.4,207.5 L322.0,207.2 L323.8,207.1 L325.3,207.2 L326.8,207.7 L328.8,207.2 L330.3,207.5 L332.0,207.8 L333.8,208.0 L335.4,207.6 L337.2,208.0 L339.0,207.9 L340.7,208.3 L343.0,208.3" fill="none" stroke="#ed1c24" stroke-width="3.3" stroke-linejoin="round" stroke-linecap="butt"/>
<path d="M346.0,207.6 L347.8,208.0 L349.4,207.6 L351.5,207.3 L353.2,207.5 L353.9,205.3 L354.0,204.1 L354.6,202.3 L355.2,200.0 L355.7,198.6 L356.0,196.5 L356.5,195.1 L356.8,193.1 L357.2,192.0 L357.3,190.0 L357.8,188.3 L358.2,186.6 L359.4,185.4 L360.3,183.8 L361.5,182.3 L362.7,181.2 L364.0,179.5 L365.0,178.6 L366.3,177.2 L368.0,175.5 L369.4,174.4 L371.2,172.5 L372.6,171.2 L373.8,170.3 L375.0,169.0 L376.2,168.0 L377.3,166.6 L378.6,165.6 L381.0,164.3 L382.8,163.5 L384.0,161.4 L385.0,160.0 L385.8,158.7 L386.4,157.2 L387.2,155.3 L388.0,154.0 L389.0,152.8 L390.2,151.0 L391.5,149.5 L392.7,148.4 L394.0,146.6 L395.3,145.4 L396.3,144.0 L397.3,142.3 L398.0,141.0 L398.8,138.8 L399.6,137.0 L400.6,135.5 L401.4,134.1 L401.8,132.0 L402.7,130.5 L403.3,129.0 L404.0,127.5 L404.4,125.5 L405.0,123.6 L405.8,121.9 L406.5,120.3 L407.0,118.4 L407.5,117.4 L408.4,115.5 L409.2,114.2 L409.6,112.8 L410.4,110.9 L411.0,109.3 L412.1,107.9 L412.7,106.4 L413.7,104.7 L415.0,103.2 L416.3,101.0 L417.7,99.7 L418.8,98.2 L421.1,96.4 L422.8,98.6 L424.6,99.3 L426.7,98.2 L428.8,98.4 L431.5,99.8 L432.9,100.5 L434.1,102.0 L435.2,103.5 L436.2,104.7 L437.3,106.0 L438.3,107.2 L439.4,108.5 L440.4,110.4 L441.4,111.9 L442.7,113.3 L443.5,114.6 L444.4,116.4 L445.6,117.7 L446.6,118.8 L448.1,119.8 L449.8,121.7 L451.9,122.3 L452.4,123.7 L453.3,125.5 L454.1,127.1 L454.6,128.5 L455.0,130.3 L455.7,132.3 L456.8,134.2 L457.7,135.7 L458.7,137.8 L459.4,139.2 L460.3,140.7 L461.8,142.7 L463.0,144.2 L464.2,145.7 L465.5,146.6 L467.0,147.4 L468.6,147.7 L469.6,149.2 L471.0,151.5 L471.8,152.8 L472.9,154.5 L473.9,156.5 L475.0,158.1 L476.0,159.3 L477.0,160.8 L478.1,162.0 L479.1,163.7 L480.2,164.8 L482.6,166.7 L484.3,167.3 L485.7,168.4 L486.8,170.0 L487.8,172.0 L488.9,173.6 L490.5,174.8 L492.0,176.2 L493.4,177.1 L495.1,177.8 L496.7,177.6 L498.5,178.2 L501.4,178.4 L503.0,180.2 L503.6,182.1 L504.6,183.4 L505.7,184.8 L507.0,186.3 L508.3,187.2 L509.8,188.7 L511.1,189.5 L512.4,190.0 L514.0,191.3 L516.1,192.1 L518.2,193.5 L519.7,193.8 L521.6,194.9 L523.4,195.6 L524.9,196.4 L526.8,196.7 L528.6,197.4 L530.4,197.4 L531.6,197.9 L533.2,198.6 L535.0,199.0 L537.0,199.5 L538.9,199.5 L541.2,200.2 L543.2,200.8 L545.4,201.2 L547.5,201.3 L549.5,202.0 L551.6,201.7 L553.8,202.3 L555.7,203.0 L557.2,202.9 L559.4,203.6 L561.0,203.8 L562.6,204.2 L564.5,204.0 L566.3,204.4 L568.4,205.0 L570.4,204.7 L572.1,205.6 L574.1,205.8 L576.0,205.5 L578.0,205.9 L579.3,206.1 L581.4,205.6 L583.1,205.9 L584.6,206.4 L586.6,206.0 L588.1,206.0 L589.9,206.3 L591.5,206.6 L593.0,207.1 L595.0,207.0 L596.6,207.2 L598.2,207.4 L599.9,207.1 L601.4,207.1 L603.1,207.5 L604.6,207.1 L606.4,207.5 L608.0,207.4 L609.5,207.6 L611.0,207.5 L612.6,207.7 L614.5,207.5 L616.0,207.6 L617.5,207.8 L619.6,207.4 L621.3,207.7 L622.8,207.9 L624.7,208.0 L626.2,207.5 L628.0,207.6 L629.7,207.2 L631.3,208.0 L633.0,207.7 L634.9,207.2 L636.4,207.4 L638.4,207.3 L640.0,207.6" fill="none" stroke="#ed1c24" stroke-width="3.3" stroke-linejoin="round" stroke-linecap="butt"/>
<path d="M52.0,418.6 L53.6,418.3 L55.9,417.7 L57.6,417.6 L58.0,415.7 L58.4,414.3 L58.7,412.9 L58.8,411.2 L59.1,409.3 L59.6,408.0 L59.6,406.7 L60.2,404.3 L60.3,402.9 L60.3,401.2 L60.7,399.7 L60.8,398.4 L61.0,396.9 L61.1,394.9 L61.1,393.4 L61.5,392.1 L61.5,390.5 L61.8,388.6 L61.8,387.2 L62.1,385.2 L62.4,383.3 L62.5,382.3 L62.7,380.5 L63.2,379.1 L63.5,377.1 L63.9,376.2 L64.2,374.1 L64.6,372.3 L65.2,371.0 L66.0,369.6 L66.8,367.7 L67.4,365.7 L67.9,363.8 L68.4,362.3 L69.1,361.1 L69.5,359.5 L69.9,357.8 L70.5,356.0 L71.2,354.8 L71.7,352.6 L71.9,350.9 L72.5,349.8 L73.1,348.0 L73.8,346.1 L74.6,343.8 L75.1,342.2 L75.8,340.5 L76.6,338.6 L77.0,337.2 L77.7,334.8 L78.4,333.4 L78.9,331.4 L80.0,329.2 L80.6,327.5 L81.6,326.1 L82.3,324.7 L82.7,322.6 L83.6,321.1 L84.7,319.7 L85.8,318.6 L87.8,316.9 L88.6,315.1 L89.4,313.2 L90.0,311.5 L90.5,309.8 L91.1,308.8 L91.4,306.7 L92.0,305.4 L92.4,304.0 L93.3,301.6 L93.8,300.3 L94.6,298.5 L95.1,296.4 L95.9,295.4 L96.7,293.9 L97.2,291.8 L98.8,289.9 L100.4,288.6 L100.9,287.3 L101.6,284.9 L102.5,283.5 L103.1,281.7 L103.9,279.6 L104.6,278.2 L105.0,276.2 L105.8,274.6 L106.1,273.1 L106.7,271.5 L107.2,269.4 L107.8,268.2 L108.3,266.7 L108.7,264.6 L109.1,262.3 L109.9,260.8 L110.3,258.5 L111.0,256.7 L111.3,254.9 L111.9,253.0 L112.4,251.2 L113.4,250.0 L115.0,248.4 L116.6,247.5 L118.2,247.2 L120.3,248.1 L122.4,249.9 L124.0,252.0 L124.9,253.7 L125.5,255.1 L126.0,257.3 L126.7,258.8 L127.0,260.5 L127.4,262.3 L127.8,263.5 L128.1,264.9 L128.6,266.7 L129.6,268.6 L130.2,270.2 L131.0,272.1 L131.8,274.0 L132.3,275.5 L132.8,277.6 L133.2,279.4 L133.9,280.7 L134.4,282.3 L135.1,284.1 L135.7,286.2 L136.0,287.6 L136.3,289.3 L137.1,290.9 L137.5,292.4 L138.1,294.0 L138.8,295.7 L139.2,296.7 L139.7,298.5 L140.2,300.2 L140.9,302.1 L141.1,303.5 L141.6,305.3 L142.3,306.5 L143.0,307.9 L143.2,309.4 L144.1,311.6 L144.4,312.7 L145.1,314.4 L145.6,316.2 L146.5,318.2 L147.4,319.6 L147.7,321.2 L148.5,323.2 L149.1,324.6 L150.2,326.6 L151.0,328.6 L151.7,330.0 L152.3,331.9 L153.5,333.1 L153.9,334.5 L154.8,336.5 L155.4,338.3 L156.1,340.2 L157.0,342.0 L157.9,343.8 L158.5,345.7 L159.0,348.0 L160.1,349.5 L160.8,351.8 L161.6,353.4 L162.3,354.8 L163.3,357.0 L164.3,358.5 L165.3,359.9 L165.9,362.1 L167.0,363.4 L167.8,365.3 L168.5,366.3 L169.5,367.9 L171.6,369.8 L173.7,371.1 L175.2,372.7 L176.3,374.5 L177.4,376.3 L178.9,378.4 L179.6,379.5 L180.8,381.1 L181.5,382.7 L182.7,384.3 L184.2,386.6 L185.8,387.4 L187.3,387.9 L188.9,390.5 L189.9,392.3 L190.5,393.3 L192.1,395.2 L194.0,396.2 L195.8,396.9 L197.4,397.9 L198.9,398.7 L200.5,399.0 L202.6,399.6 L204.5,399.8 L206.2,400.3 L207.8,402.2 L209.3,404.9 L211.4,406.3 L213.5,407.2 L215.6,408.1 L217.7,409.1 L219.3,409.6 L220.7,410.4 L222.6,410.8 L224.0,411.2 L225.4,411.9 L227.3,412.5 L228.6,412.2 L230.3,412.9 L232.2,413.0 L234.4,414.1 L236.5,414.1 L238.4,414.7 L240.9,414.3 L242.8,415.0 L244.7,415.5 L246.2,415.6 L247.7,415.8 L249.6,415.8 L251.3,415.7 L253.0,416.2 L254.8,416.2 L256.5,416.4 L258.4,416.5 L260.4,417.2 L262.2,417.3 L263.8,417.1 L265.7,417.1 L267.0,417.2 L269.0,417.6 L270.7,417.6 L272.5,417.7 L274.0,418.0 L275.8,418.1 L277.7,418.2 L279.4,418.7 L281.2,418.3 L282.9,418.1 L284.7,418.6 L286.5,419.0 L288.3,418.3 L290.1,418.7 L291.4,418.7 L293.5,419.0 L295.0,419.0 L296.9,419.0 L298.5,419.3 L300.4,418.9 L302.1,419.0 L304.1,419.3 L305.7,419.2 L307.3,419.3 L309.1,418.9 L310.7,419.3 L312.5,418.8 L314.1,419.0 L316.0,419.2 L317.9,419.3 L319.4,419.3 L321.2,419.5 L322.6,419.6 L324.2,419.4 L326.0,419.3 L327.6,419.7 L329.5,419.3 L330.9,419.2 L332.7,419.7 L334.1,419.1 L336.0,419.5 L337.5,419.4 L339.4,419.8 L341.2,419.3 L343.0,419.5" fill="none" stroke="#ed1c24" stroke-width="3.3" stroke-linejoin="round" stroke-linecap="butt"/>
<path d="M346.0,419.0 L347.8,418.9 L349.7,418.9 L351.2,418.6 L353.2,418.6 L353.9,417.1 L354.3,414.4 L355.1,413.1 L355.5,411.0 L355.9,408.9 L356.7,407.5 L357.6,406.1 L358.0,403.9 L358.7,402.3 L360.4,400.9 L361.8,399.3 L363.4,397.9 L365.0,397.0 L366.3,395.5 L367.6,394.2 L368.6,393.5 L369.9,392.3 L370.9,390.6 L372.3,389.7 L374.3,388.2 L376.0,386.8 L377.7,385.7 L379.6,384.5 L381.7,384.0 L383.8,383.4 L385.5,382.3 L387.0,380.4 L388.4,378.8 L390.1,377.1 L391.7,375.5 L392.9,374.0 L394.3,372.9 L395.6,371.6 L397.3,370.3 L398.5,368.7 L399.9,367.1 L401.1,364.8 L401.8,363.1 L402.7,361.8 L403.7,360.4 L404.6,358.7 L405.2,357.2 L405.8,356.0 L406.7,354.4 L407.9,352.0 L409.2,351.4 L410.5,350.0 L413.1,348.9 L415.2,348.1 L417.3,347.8 L419.4,347.7 L421.5,348.2 L423.0,349.8 L424.6,350.9 L426.2,350.2 L427.8,350.3 L429.0,351.1 L430.4,352.5 L431.7,353.4 L433.0,355.1 L434.7,356.6 L436.1,358.4 L437.5,360.2 L439.3,361.4 L440.6,362.3 L441.9,363.3 L444.5,364.6 L446.1,366.4 L447.7,368.5 L449.3,368.9 L450.8,368.7 L452.4,371.0 L453.1,372.2 L454.0,374.0 L455.6,375.5 L457.1,377.4 L458.5,378.7 L460.3,380.3 L461.8,381.3 L463.4,382.8 L464.8,383.9 L466.5,384.9 L468.1,384.5 L469.7,384.0 L471.1,385.5 L472.8,386.7 L474.4,388.4 L476.0,389.7 L477.7,390.6 L479.1,392.0 L480.7,392.9 L482.2,393.9 L484.3,395.5 L486.3,397.0 L488.2,397.8 L490.0,398.5 L491.4,399.0 L493.3,400.0 L494.7,400.3 L496.6,400.2 L498.5,400.2 L500.4,399.7 L502.0,399.7 L504.0,401.8 L505.0,403.5 L506.2,404.9 L508.0,405.8 L509.6,406.0 L511.0,406.7 L512.4,407.2 L514.0,407.8 L515.6,408.1 L517.2,408.7 L518.8,408.6 L520.4,409.7 L522.0,409.8 L524.2,410.3 L526.1,410.7 L528.2,411.2 L530.2,411.4 L531.7,411.1 L533.7,411.7 L535.5,411.6 L537.5,411.5 L539.2,412.0 L541.1,412.2 L542.8,411.8 L544.3,412.2 L546.2,411.7 L547.7,412.6 L549.4,412.5 L551.0,412.7 L552.8,412.7 L554.4,413.2 L556.2,412.9 L558.0,413.3 L559.6,413.7 L561.4,413.7 L563.3,414.1 L565.0,414.7 L567.0,415.0 L568.8,415.0 L570.7,415.5 L572.3,415.8 L574.3,416.5 L576.3,416.8 L577.9,417.3 L579.5,417.2 L581.3,417.3 L583.0,418.1 L585.0,418.0 L586.7,418.6 L588.3,418.3 L590.0,419.0 L591.8,418.9 L593.4,418.7 L595.2,419.2 L597.2,419.6 L599.0,419.3 L600.8,418.7 L602.5,419.0 L604.2,419.1 L606.4,418.8 L608.2,418.5 L609.9,418.6 L611.6,418.4 L613.1,418.6 L614.9,418.7 L616.4,419.1 L618.0,419.0 L619.6,419.2 L621.1,419.4 L622.8,419.2 L624.2,419.1 L626.0,419.2 L627.8,418.9 L629.6,418.9 L631.5,419.1 L633.0,419.1 L634.9,419.4 L636.3,418.9 L638.4,419.1 L640.0,419.0" fill="none" stroke="#ed1c24" stroke-width="3.3" stroke-linejoin="round" stroke-linecap="butt"/>
<line x1="126.8" y1="31.5" x2="126.8" y2="205.0" stroke="#1badee" stroke-width="3.3"/><polygon points="118.6,203.0 135.0,203.0 127.3,216.6" fill="#1badee"/>
<line x1="422.1" y1="98.5" x2="422.1" y2="205.3" stroke="#1badee" stroke-width="3.3"/><polygon points="413.90000000000003,203.3 430.3,203.3 422.6,216.9" fill="#1badee"/>
<line x1="118.3" y1="248.5" x2="118.3" y2="416.79999999999995" stroke="#1badee" stroke-width="3.3"/><polygon points="110.1,414.79999999999995 126.5,414.79999999999995 118.8,428.4" fill="#1badee"/>
<line x1="417.3" y1="349" x2="417.3" y2="416.79999999999995" stroke="#1badee" stroke-width="3.3"/><polygon points="409.1,414.79999999999995 425.5,414.79999999999995 417.8,428.4" fill="#1badee"/>
<rect x="49.5" y="5.7" width="296" height="3.1" fill="#362b28"/>
<rect x="49.4" y="5.7" width="2.9" height="212" fill="#362b28"/>
<rect x="345.2" y="5.7" width="298.4" height="3.1" fill="#000"/>
<rect x="640.5" y="5.7" width="3.1" height="425.2" fill="#000"/>
<rect x="345.0" y="5.7" width="3.1" height="425.2" fill="#000"/>
<rect x="49.4" y="216.7" width="594.2" height="3.1" fill="#000"/>
<rect x="49.4" y="427.8" width="594.2" height="3.1" fill="#000"/>
<rect x="49.4" y="216.7" width="2.9" height="214.2" fill="#000"/>
<rect x="52" y="206.3" width="6" height="3" fill="#362b28"/>
<rect x="634.6" y="206.3" width="6" height="3" fill="#000"/>
<rect x="52" y="186.2" width="6" height="3" fill="#362b28"/>
<rect x="634.6" y="186.2" width="6" height="3" fill="#000"/>
<rect x="52" y="166.2" width="6" height="3" fill="#362b28"/>
<rect x="634.6" y="166.2" width="6" height="3" fill="#000"/>
<rect x="52" y="146.2" width="6" height="3" fill="#362b28"/>
<rect x="634.6" y="146.2" width="6" height="3" fill="#000"/>
<rect x="52" y="126.1" width="6" height="3" fill="#362b28"/>
<rect x="634.6" y="126.1" width="6" height="3" fill="#000"/>
<rect x="52" y="106.0" width="6" height="3" fill="#362b28"/>
<rect x="634.6" y="106.0" width="6" height="3" fill="#000"/>
<rect x="52" y="86.0" width="6" height="3" fill="#362b28"/>
<rect x="634.6" y="86.0" width="6" height="3" fill="#000"/>
<rect x="52" y="66.0" width="6" height="3" fill="#362b28"/>
<rect x="634.6" y="66.0" width="6" height="3" fill="#000"/>
<rect x="52" y="45.9" width="6" height="3" fill="#362b28"/>
<rect x="634.6" y="45.9" width="6" height="3" fill="#000"/>
<rect x="52" y="25.8" width="6" height="3" fill="#362b28"/>
<rect x="634.6" y="25.8" width="6" height="3" fill="#000"/>
<rect x="52" y="417.4" width="6" height="3" fill="#000"/>
<rect x="634.6" y="417.4" width="6" height="3" fill="#000"/>
<rect x="52" y="397.3" width="6" height="3" fill="#000"/>
<rect x="634.6" y="397.3" width="6" height="3" fill="#000"/>
<rect x="52" y="377.3" width="6" height="3" fill="#000"/>
<rect x="634.6" y="377.3" width="6" height="3" fill="#000"/>
<rect x="52" y="357.2" width="6" height="3" fill="#000"/>
<rect x="634.6" y="357.2" width="6" height="3" fill="#000"/>
<rect x="52" y="337.2" width="6" height="3" fill="#000"/>
<rect x="634.6" y="337.2" width="6" height="3" fill="#000"/>
<rect x="52" y="317.1" width="6" height="3" fill="#000"/>
<rect x="634.6" y="317.1" width="6" height="3" fill="#000"/>
<rect x="52" y="297.1" width="6" height="3" fill="#000"/>
<rect x="634.6" y="297.1" width="6" height="3" fill="#000"/>
<rect x="52" y="277.0" width="6" height="3" fill="#000"/>
<rect x="634.6" y="277.0" width="6" height="3" fill="#000"/>
<rect x="52" y="257.0" width="6" height="3" fill="#000"/>
<rect x="634.6" y="257.0" width="6" height="3" fill="#000"/>
<rect x="52" y="236.9" width="6" height="3" fill="#000"/>
<rect x="634.6" y="236.9" width="6" height="3" fill="#000"/>
<rect x="86.6" y="212.0" width="2.7" height="4.8" fill="#362b28"/>
<rect x="86.6" y="423.1" width="2.7" height="4.8" fill="#000"/>
<rect x="123.5" y="210.9" width="2.7" height="5.9" fill="#362b28"/>
<rect x="123.5" y="422.0" width="2.7" height="5.9" fill="#000"/>
<rect x="160.3" y="212.0" width="2.7" height="4.8" fill="#362b28"/>
<rect x="160.3" y="423.1" width="2.7" height="4.8" fill="#000"/>
<rect x="197.2" y="210.9" width="2.7" height="5.9" fill="#362b28"/>
<rect x="197.2" y="422.0" width="2.7" height="5.9" fill="#000"/>
<rect x="234.2" y="212.0" width="2.7" height="4.8" fill="#362b28"/>
<rect x="234.2" y="423.1" width="2.7" height="4.8" fill="#000"/>
<rect x="271.0" y="210.9" width="2.7" height="5.9" fill="#362b28"/>
<rect x="271.0" y="422.0" width="2.7" height="5.9" fill="#000"/>
<rect x="307.9" y="212.0" width="2.7" height="4.8" fill="#362b28"/>
<rect x="307.9" y="423.1" width="2.7" height="4.8" fill="#000"/>
<rect x="381.9" y="212.0" width="2.7" height="4.8" fill="#000"/>
<rect x="381.9" y="423.1" width="2.7" height="4.8" fill="#000"/>
<rect x="418.8" y="210.9" width="2.7" height="5.9" fill="#000"/>
<rect x="418.8" y="422.0" width="2.7" height="5.9" fill="#000"/>
<rect x="455.7" y="212.0" width="2.7" height="4.8" fill="#000"/>
<rect x="455.7" y="423.1" width="2.7" height="4.8" fill="#000"/>
<rect x="492.6" y="210.9" width="2.7" height="5.9" fill="#000"/>
<rect x="492.6" y="422.0" width="2.7" height="5.9" fill="#000"/>
<rect x="529.5" y="212.0" width="2.7" height="4.8" fill="#000"/>
<rect x="529.5" y="423.1" width="2.7" height="4.8" fill="#000"/>
<rect x="566.4" y="210.9" width="2.7" height="5.9" fill="#000"/>
<rect x="566.4" y="422.0" width="2.7" height="5.9" fill="#000"/>
<rect x="603.4" y="212.0" width="2.7" height="4.8" fill="#000"/>
<rect x="603.4" y="423.1" width="2.7" height="4.8" fill="#000"/>
<text x="48" y="213.9" text-anchor="end" font-size="18" letter-spacing="0.9">0</text>
<text x="647.6" y="213.9" font-size="18" letter-spacing="0.9">0</text>
<text x="48" y="193.8" text-anchor="end" font-size="18" letter-spacing="0.9">10</text>
<text x="647.6" y="193.8" font-size="18" letter-spacing="0.9">10</text>
<text x="48" y="173.8" text-anchor="end" font-size="18" letter-spacing="0.9">20</text>
<text x="647.6" y="173.8" font-size="18" letter-spacing="0.9">20</text>
<text x="48" y="153.8" text-anchor="end" font-size="18" letter-spacing="0.9">30</text>
<text x="647.6" y="153.8" font-size="18" letter-spacing="0.9">30</text>
<text x="48" y="133.7" text-anchor="end" font-size="18" letter-spacing="0.9">40</text>
<text x="647.6" y="133.7" font-size="18" letter-spacing="0.9">40</text>
<text x="48" y="113.6" text-anchor="end" font-size="18" letter-spacing="0.9">50</text>
<text x="647.6" y="113.6" font-size="18" letter-spacing="0.9">50</text>
<text x="48" y="93.6" text-anchor="end" font-size="18" letter-spacing="0.9">60</text>
<text x="647.6" y="93.6" font-size="18" letter-spacing="0.9">60</text>
<text x="48" y="73.5" text-anchor="end" font-size="18" letter-spacing="0.9">70</text>
<text x="647.6" y="73.5" font-size="18" letter-spacing="0.9">70</text>
<text x="48" y="53.5" text-anchor="end" font-size="18" letter-spacing="0.9">80</text>
<text x="647.6" y="53.5" font-size="18" letter-spacing="0.9">80</text>
<text x="48" y="33.4" text-anchor="end" font-size="18" letter-spacing="0.9">90</text>
<text x="647.6" y="33.4" font-size="18" letter-spacing="0.9">90</text>
<text x="48" y="13.4" text-anchor="end" font-size="18" letter-spacing="0.9">100</text>
<text x="647.6" y="13.4" font-size="18" letter-spacing="0.9">100</text>
<text x="48" y="425.0" text-anchor="end" font-size="18" letter-spacing="0.9">0</text>
<text x="647.6" y="425.0" font-size="18" letter-spacing="0.9">0</text>
<text x="48" y="404.9" text-anchor="end" font-size="18" letter-spacing="0.9">10</text>
<text x="647.6" y="404.9" font-size="18" letter-spacing="0.9">10</text>
<text x="48" y="384.9" text-anchor="end" font-size="18" letter-spacing="0.9">20</text>
<text x="647.6" y="384.9" font-size="18" letter-spacing="0.9">20</text>
<text x="48" y="364.9" text-anchor="end" font-size="18" letter-spacing="0.9">30</text>
<text x="647.6" y="364.9" font-size="18" letter-spacing="0.9">30</text>
<text x="48" y="344.8" text-anchor="end" font-size="18" letter-spacing="0.9">40</text>
<text x="647.6" y="344.8" font-size="18" letter-spacing="0.9">40</text>
<text x="48" y="324.8" text-anchor="end" font-size="18" letter-spacing="0.9">50</text>
<text x="647.6" y="324.8" font-size="18" letter-spacing="0.9">50</text>
<text x="48" y="304.7" text-anchor="end" font-size="18" letter-spacing="0.9">60</text>
<text x="647.6" y="304.7" font-size="18" letter-spacing="0.9">60</text>
<text x="48" y="284.6" text-anchor="end" font-size="18" letter-spacing="0.9">70</text>
<text x="647.6" y="284.6" font-size="18" letter-spacing="0.9">70</text>
<text x="48" y="264.6" text-anchor="end" font-size="18" letter-spacing="0.9">80</text>
<text x="647.6" y="264.6" font-size="18" letter-spacing="0.9">80</text>
<text x="48" y="244.5" text-anchor="end" font-size="18" letter-spacing="0.9">90</text>
<text x="647.6" y="244.5" font-size="18" letter-spacing="0.9">90</text>
<text x="52.0" y="449" font-size="18" letter-spacing="1.3" text-anchor="middle">400</text>
<text x="125.8" y="449" font-size="18" letter-spacing="1.3" text-anchor="middle">500</text>
<text x="199.6" y="449" font-size="18" letter-spacing="1.3" text-anchor="middle">600</text>
<text x="273.40000000000003" y="449" font-size="18" letter-spacing="1.3" text-anchor="middle">700</text>
<text x="347.20000000000005" y="449" font-size="18" letter-spacing="1.3" text-anchor="middle">400</text>
<text x="421.20000000000005" y="449" font-size="18" letter-spacing="1.3" text-anchor="middle">500</text>
<text x="495.0" y="449" font-size="18" letter-spacing="1.3" text-anchor="middle">600</text>
<text x="568.8000000000001" y="449" font-size="18" letter-spacing="1.3" text-anchor="middle">700</text>
<text x="642.6" y="449" font-size="18" letter-spacing="1.3" text-anchor="middle">800</text>
<text x="352.5" y="471" text-anchor="middle" font-size="24" letter-spacing="1.0">Wavelength (nm)</text>
<text transform="translate(17.3,227.2) rotate(-90)" text-anchor="middle" font-size="24" letter-spacing="0.93">Normalized Intensity (%)</text>
<text transform="translate(679.8,219.1) rotate(90)" text-anchor="middle" font-size="24" letter-spacing="0.93">Normalized Intensity (%)</text>
<text x="134.3" y="28" font-size="17" letter-spacing="1.15">501.6 nm</text>
<text x="402.5" y="90.5" font-size="17" letter-spacing="1.15">500.9 nm</text>
<text x="127.2" y="247.5" font-size="17" letter-spacing="1.15">489.9 nm</text>
<text x="425.4" y="343.8" font-size="17" letter-spacing="1.15">498.2 nm</text>
<text x="282.7" y="156.2" font-size="20" letter-spacing="1.6" text-anchor="middle">compound</text>
<text x="283.1" y="178.9" font-size="20" letter-spacing="1.6" text-anchor="middle">eyes</text>
<text x="566.4" y="156.8" font-size="20" letter-spacing="1.6" text-anchor="middle">thorax</text>
<text x="566.6" y="180.3" font-size="20" letter-spacing="1.6" text-anchor="middle">front</text>
<text x="269.6" y="373.4" font-size="20" letter-spacing="1.2" text-anchor="middle">8th abdominal</text>
<text x="270.5" y="396.1" font-size="20" letter-spacing="1.6" text-anchor="middle">segment</text>
<text x="566.4" y="374.5" font-size="20" letter-spacing="1.6" text-anchor="middle">wings</text>
</svg>
</body>
</html>
